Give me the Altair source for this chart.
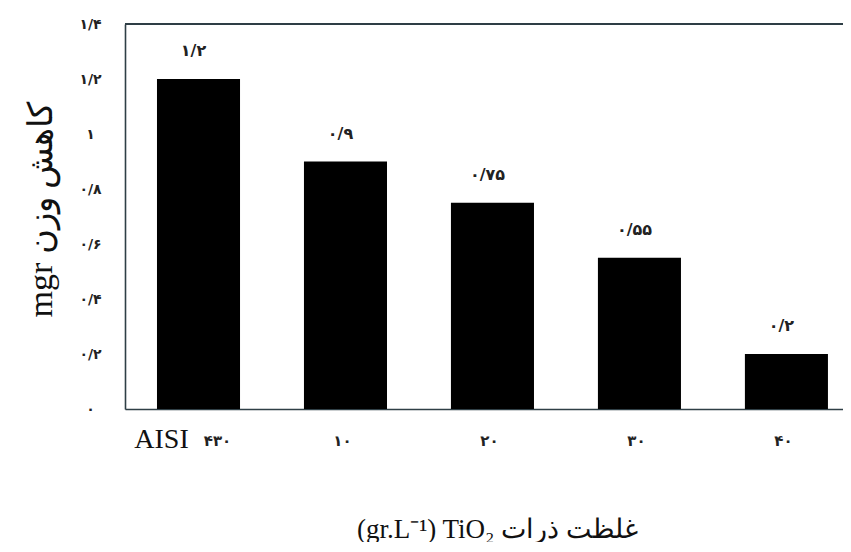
import altair as alt
import pandas as pd

categories = ["AISI ۴۳۰", "۱۰", "۲۰", "۳۰", "۴۰"]
values = [1.2, 0.9, 0.75, 0.55, 0.2]
value_labels = ["۱/۲", "۰/۹", "۰/۷۵", "۰/۵۵", "۰/۲"]
y_ticks = [0, 0.2, 0.4, 0.6, 0.8, 1.0, 1.2, 1.4]
y_tick_labels = ["۰", "۰/۲", "۰/۴", "۰/۶", "۰/۸", "۱", "۱/۲", "۱/۴"]

y_title = "mgr کاهش وزن"
x_title = "(gr.L⁻¹) TiO₂ غلظت ذرات"

df = pd.DataFrame({"cat": categories, "val": values, "lab": value_labels})
df["prefix"] = [c.split(" ")[0] if " " in c else "" for c in categories]

W, H = 718, 385
frame_color = "#2f3f46"

label_expr = "[" + ",".join("'" + s + "'" for s in y_tick_labels) + "][round(datum.value*5)]"
first_test = "datum.value == '" + categories[0] + "'"
x_label_expr = "split(datum.label, ' ')[length(split(datum.label, ' ')) - 1]"

x_enc = alt.X(
    "cat:N",
    sort=categories,
    scale=alt.Scale(paddingInner=0.435, paddingOuter=0.16, align=0.68),
    axis=alt.Axis(
        title=x_title,
        labelAngle=0,
        labelExpr=x_label_expr,
        ticks=False,
        tickSize=0,
        domain=True,
        domainColor=frame_color,
        domainWidth=1.6,
        labelFont="DejaVu Sans",
        labelFontSize=15,
        labelFontWeight="bold",
        labelOffset={"condition": {"test": first_test, "value": 19}, "value": -3},
        labelBaseline="middle",
        labelColor="#222222",
        labelPadding=31,
        titleFont="Liberation Serif",
        titleFontSize=27,
        titleFontWeight="normal",
        titleColor="#111111",
        titleX=372,
        titleY=120,
        titleBaseline="middle",
        titleAlign="center",
    ),
)

y_enc = alt.Y(
    "val:Q",
    scale=alt.Scale(domain=[0, 1.4], nice=False),
    axis=alt.Axis(
        title=y_title,
        values=y_ticks,
        labelExpr=label_expr,
        ticks=False,
        tickSize=0,
        grid=False,
        domain=True,
        domainColor=frame_color,
        domainWidth=1.6,
        labelFont="DejaVu Sans",
        labelFontWeight="bold",
        labelFontSize=14,
        labelColor="#222222",
        labelAlign="center",
        labelBaseline="middle",
        labelPadding=35,
        titleFont="Liberation Serif",
        titleFontSize=34,
        titleFontWeight="normal",
        titleColor="#111111",
        titleX=-84,
        titleY=185,
        titleBaseline="middle",
        titleAlign="center",
    ),
)

bars = alt.Chart(df).mark_bar(color="black").encode(x=x_enc, y=y_enc)

texts = alt.Chart(df).mark_text(
    dy=-28, dx=-5, font="DejaVu Sans", fontWeight="bold", fontSize=16, color="#222222", baseline="middle"
).encode(x=alt.X("cat:N", sort=categories), y=alt.Y("val:Q"), text="lab:N")

prefix_text = alt.Chart(df).transform_filter("datum.prefix != ''").mark_text(
    dx=-37, font="Liberation Serif", fontSize=28, color="#111111", baseline="middle"
).encode(x=alt.X("cat:N", sort=categories), y=alt.value(H + 31), text="prefix:N")

top_rule = alt.Chart(df).mark_rule(color=frame_color, strokeWidth=1.6).encode(
    x=alt.value(0), x2=alt.value(W), y=alt.value(0)
)

chart = (
    alt.layer(bars, texts, prefix_text, top_rule)
    .properties(
        width=W,
        height=H,
        autosize=alt.AutoSizeParams(type="none"),
        padding={"left": 117, "top": 16, "right": 0, "bottom": 133},
    )
    .configure_view(stroke=None)
    .configure(background="white")
)

chart.save("out.html", embed_options={"renderer": "svg", "actions": False})
